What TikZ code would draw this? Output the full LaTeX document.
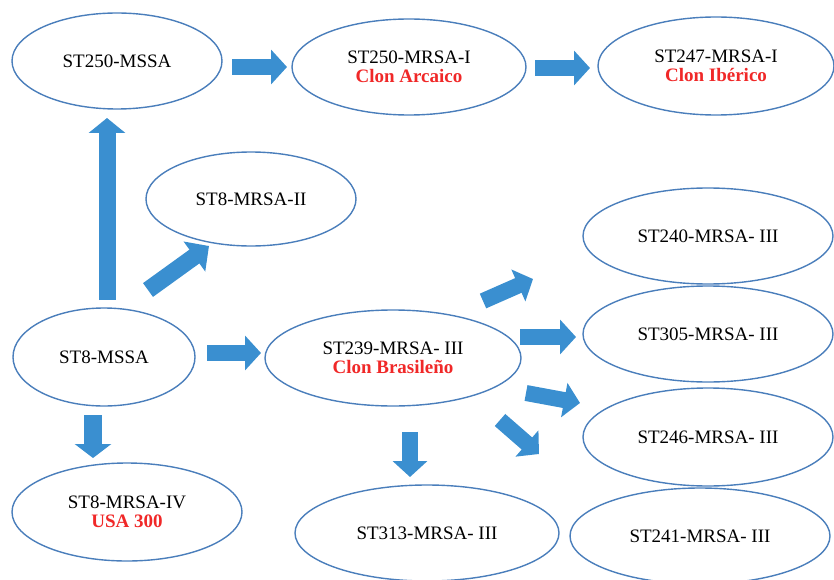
\documentclass[tikz,border=0pt]{standalone}
\usepackage{fontspec}
\setmainfont{Liberation Serif}
\usetikzlibrary{shapes.geometric,arrows.meta}
\definecolor{edgeblue}{RGB}{74,126,187}
\definecolor{arrowblue}{RGB}{58,143,208}
\definecolor{clonred}{RGB}{240,40,40}
\tikzset{
  oval/.style={ellipse, draw=edgeblue, line width=1.4pt, inner sep=0pt, align=center,
    font=\fontsize{19}{18.5}\selectfont},
  blockarr/.style={draw=arrowblue, line width=16pt,
    -{Triangle[length=16pt, width=34pt]}}
}
\newcommand{\redtag}[1]{\textcolor{clonred}{\bfseries #1}}
\begin{document}
\begin{tikzpicture}[x=1pt, y=-1pt]
\useasboundingbox (0,0) rectangle (834,580);
\clip (0,0) rectangle (834,580);
% ellipses
\node[oval, minimum width=210pt, minimum height=96pt] (mssa250) at (117,61) {ST250-MSSA};
\node[oval, minimum width=234pt, minimum height=96pt] (mrsa250) at (409,67) {ST250-MRSA-I\\\redtag{Clon Arcaico}};
\node[oval, minimum width=236pt, minimum height=98pt] (mrsa247) at (716,66) {ST247-MRSA-I\\\redtag{Clon Ibérico}};
\node[oval, minimum width=210pt, minimum height=94pt] (mrsa8ii) at (251,199) {ST8-MRSA-II};
\node[oval, minimum width=182pt, minimum height=98pt] (mssa8) at (104,357) {ST8-MSSA};
\node[oval, minimum width=256pt, minimum height=96pt] (mrsa239) at (393,358) {ST239-MRSA- III\\\redtag{Clon Brasileño}};
\node[oval, minimum width=250pt, minimum height=96pt] (mrsa240) at (708,236) {ST240-MRSA- III};
\node[oval, minimum width=250pt, minimum height=96pt] (mrsa305) at (708,334) {ST305-MRSA- III};
\node[oval, minimum width=250pt, minimum height=98pt] (mrsa246) at (708,437) {ST246-MRSA- III};
\node[oval, minimum width=230pt, minimum height=98pt] (mrsa8iv) at (127,512) {ST8-MRSA-IV\\\redtag{USA 300}};
\node[oval, minimum width=264pt, minimum height=96pt] (mrsa313) at (427,533) {ST313-MRSA- III};
\node[oval, minimum width=260pt, minimum height=96pt] (mrsa241) at (700,536) {ST241-MRSA- III};
% arrow end points
\coordinate (s1) at (232,67);  \coordinate (e1) at (287,67);
\coordinate (s2) at (535,68);  \coordinate (e2) at (590,68);
\coordinate (s3) at (107,300); \coordinate (e3) at (107,118);
\coordinate (s4) at (148,290); \coordinate (e4) at (209,246);
\coordinate (s5) at (207,353); \coordinate (e5) at (261,353);
\coordinate (s6) at (93,415);  \coordinate (e6) at (93,458);
\coordinate (s7) at (410,432); \coordinate (e7) at (410,477);
\coordinate (s8) at (483,301); \coordinate (e8) at (533,279);
\coordinate (s9) at (520,337); \coordinate (e9) at (576,337);
\coordinate (s10) at (526,393); \coordinate (e10) at (580,403);
\coordinate (s11) at (500,420); \coordinate (e11) at (539,454);
% arrows
\draw[blockarr] (s1) -- (e1);
\draw[blockarr] (s2) -- (e2);
\draw[blockarr, line width=17pt, -{Triangle[length=15pt, width=36pt]}] (s3) -- (e3);
\draw[blockarr, line width=17pt, -{Triangle[length=18pt, width=36pt]}] (s4) -- (e4);
\draw[blockarr] (s5) -- (e5);
\draw[blockarr, line width=18pt, -{Triangle[length=14pt, width=36pt]}] (s6) -- (e6);
\draw[blockarr] (s7) -- (e7);
\draw[blockarr] (s8) -- (e8);
\draw[blockarr] (s9) -- (e9);
\draw[blockarr] (s10) -- (e10);
\draw[blockarr] (s11) -- (e11);
\end{tikzpicture}
\end{document}
